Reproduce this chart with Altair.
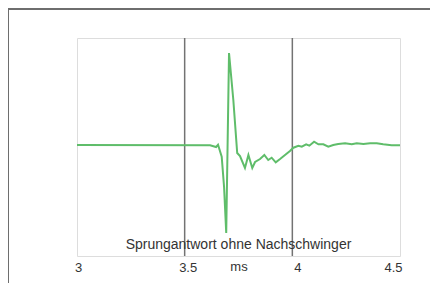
import altair as alt
import pandas as pd

# time in ms
t_ms = [3.000, 3.618, 3.646, 3.655, 3.672, 3.683, 3.693, 3.706, 3.726, 3.744,
        3.757, 3.780, 3.796, 3.814, 3.827, 3.850, 3.870, 3.888, 3.904, 3.923,
        3.943, 3.966, 3.989, 4.005, 4.028, 4.044, 4.064, 4.079, 4.101, 4.121,
        4.144, 4.167, 4.190, 4.213, 4.245, 4.276, 4.299, 4.330, 4.361, 4.392,
        4.422, 4.461, 4.500]
# response (relative units)
resp = [0, -0.3, -2, 0.3, -11.7, -42, -88, 92, 45, -8,
        -11, -23, -10, -23, -17, -14, -10, -15, -12.7, -17.3,
        -14, -10, -6, -2.7, -0.7, -1.7, 0.7, -0.7, 3.3, 0.7,
        0.7, -1.7, 0, 1, 1.7, 0.7, 1.7, 1, 1.7, 1.7,
        0.7, -0.3, -0.3]
x_ticks = [3, 3.5, 4, 4.5]
grid_x = [3.5, 4]
title_text = "Sprungantwort ohne Nachschwinger"

df = pd.DataFrame({"t": t_ms, "v": resp})
grid_df = pd.DataFrame({"g": grid_x})

W, H = 323, 218
xscale = alt.Scale(domain=[3, 4.5], nice=False, zero=False)
yscale = alt.Scale(domain=[-111, 107], nice=False, zero=False)

label_offset = {
    "condition": [
        {"test": "datum.value == 3.5", "value": 3},
        {"test": "datum.value == 4", "value": 5},
        {"test": "datum.value == 4.5", "value": -7},
    ],
    "value": 1,
}

grid = alt.Chart(grid_df).mark_rule(color="#737373", strokeWidth=1.5).encode(
    x=alt.X("g:Q", scale=xscale,
            axis=alt.Axis(values=x_ticks, title="ms", labelExpr="datum.value",
                          domain=False, ticks=False, grid=False,
                          labelFlush=False,
                          labelFont="Liberation Sans", labelFontSize=13,
                          labelColor="#333333", labelPadding=5,
                          labelOffset=label_offset,
                          titleFont="Liberation Sans", titleFontSize=13,
                          titleFontWeight="normal", titleColor="#333333",
                          titleY=10, titleBaseline="middle")),
)

line = alt.Chart(df).mark_line(color="#5fbd6a", strokeWidth=2).encode(
    x=alt.X("t:Q", scale=xscale),
    y=alt.Y("v:Q", scale=yscale, axis=None),
)

frame_top = alt.Chart(grid_df.head(1)).mark_rule(color="#6e6e6e", strokeWidth=2).encode(
    x=alt.value(-70), x2=alt.value(W + 40), y=alt.value(-29)
)
frame_left = alt.Chart(grid_df.head(1)).mark_rule(color="#6e6e6e", strokeWidth=2).encode(
    x=alt.value(-69), y=alt.value(-30), y2=alt.value(H + 40)
)

chart = alt.layer(frame_top, frame_left, grid, line).properties(
    width=W, height=H,
    title=alt.TitleParams(title_text, orient="top", anchor="middle",
                          font="Liberation Sans", fontSize=14,
                          fontWeight="normal", color="#333333",
                          offset=0, dy=245),
    autosize=alt.AutoSizeParams(type="none"),
    padding={"left": 69, "top": 30, "right": 30, "bottom": 27},
).configure_view(
    stroke="#a3a3a3", strokeWidth=1.5
).configure(background="white")

chart.save("out.html", embed_options={"renderer": "svg", "actions": False})
